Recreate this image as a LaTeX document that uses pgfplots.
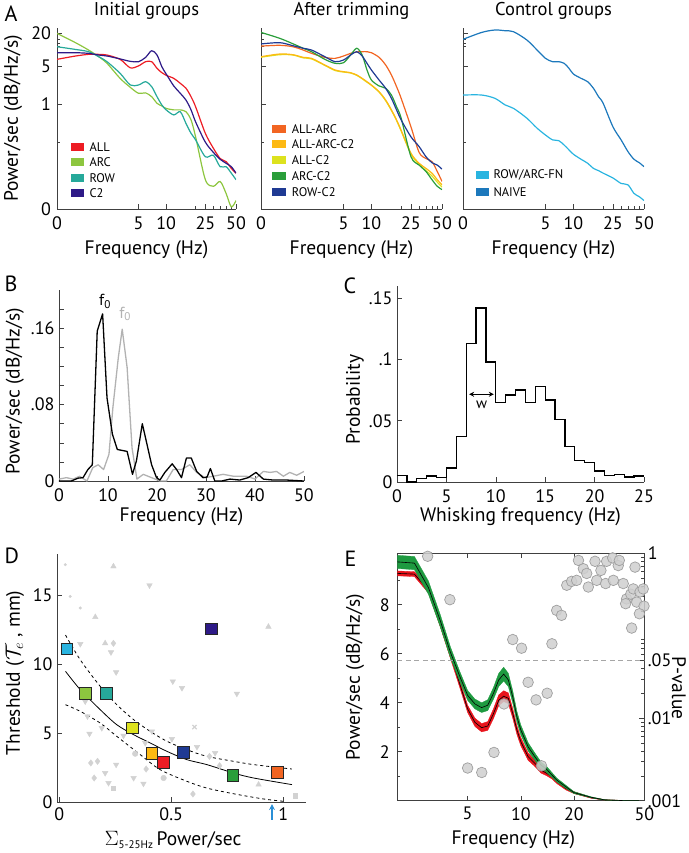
\documentclass[border=0pt]{standalone}
\usepackage{fontspec}
\setmainfont{PT Sans}
\usepackage{pgfplots}
\usepackage{pgfplotstable}
\pgfplotsset{compat=1.18}
\usetikzlibrary{arrows.meta}

\definecolor{cALL}{HTML}{ED1C24}
\definecolor{cARC}{HTML}{8DC63F}
\definecolor{cROW}{HTML}{26A99A}
\definecolor{cC2}{HTML}{2E1A87}
\definecolor{cALLARC}{HTML}{F26522}
\definecolor{cALLARCC2}{HTML}{FDB913}
\definecolor{cALLC2}{HTML}{DDE21E}
\definecolor{cARCC2}{HTML}{2A9E3A}
\definecolor{cROWC2}{HTML}{1F3A93}
\definecolor{cFN}{HTML}{29B4E0}
\definecolor{cNAIVE}{HTML}{1C78BC}
\definecolor{eGreen}{HTML}{1E9A40}
\definecolor{eRed}{HTML}{E8141C}
\definecolor{arrowblue}{HTML}{2A8FD6}

\newcommand\fs[1]{\fontsize{#1}{#1}\selectfont}

\pgfplotsset{
  base/.style={scale only axis,
    axis line style={black!75, line width=0.7pt},
    every tick/.style={black!75, line width=0.6pt},
    tick align=inside, major tick length=5pt, minor tick length=3pt,
    tick label style={font=\fs{18}}, label style={font=\fs{19.5}}},
}

\pgfplotstableread{
f ALL ARC ROW C2
0 6.58 19.7 11.2 8.71
0.5 7.57 13.3 10.0 8.71
1 8.12 9.75 9.09 8.47
1.5 8.12 7.36 7.36 7.89
2 7.89 5.56 5.96 7.57
3 6.58 2.95 3.65 6.70
4 4.60 2.02 2.23 6.05
5 5.00 1.57 2.23 5.96
6 5.96 1.60 2.56 7.15
7 5.96 1.36 2.08 9.48
8 4.50 1.03 1.36 7.89
9 3.75 0.92 0.96 4.83
10 3.35 0.83 0.78 3.55
12 2.95 0.78 0.63 2.14
14 2.39 0.78 0.72 1.57
16 1.94 0.72 0.44 1.18
18 1.36 0.51 0.29 0.78
20 0.89 0.25 0.22 0.47
25 0.29 0.041 0.108 0.20
30 0.155 0.031 0.115 0.13
35 0.10 0.038 0.071 0.097
40 0.088 0.023 0.071 0.082
45 0.066 0.013 0.054 0.071
50 0.054 0.017 0.041 0.054
}\tabAa

\pgfplotstableread{
f AA AAC AC2 ARC2 RC2
0 11.5 7.36 7.2 20.5 12.6
0.5 11.9 8.24 8.0 16.0 13.3
1 11.2 8.00 7.9 12.7 11.7
1.5 9.75 7.16 7.0 10.5 10.5
2 8.47 6.86 6.7 9.09 9.75
3 7.16 5.18 5.1 6.58 7.36
4 6.86 4.20 4.1 5.56 5.96
5 7.57 3.91 3.85 5.70 6.40
6 8.47 3.75 3.7 7.89 7.89
7 9.00 3.40 3.35 10.5 9.09
8 9.09 2.95 2.9 7.89 7.57
9 9.09 2.56 2.5 4.20 5.56
10 8.71 2.23 2.2 2.75 4.20
12 7.16 1.68 1.65 2.14 2.75
14 5.18 1.18 1.15 1.94 1.94
16 3.40 0.78 0.76 1.46 1.27
18 2.08 0.51 0.50 0.89 0.78
20 1.27 0.33 0.32 0.55 0.51
25 0.38 0.125 0.12 0.108 0.25
30 0.13 0.082 0.078 0.076 0.166
35 0.10 0.066 0.060 0.058 0.108
40 0.088 0.054 0.048 0.041 0.084
45 0.058 0.041 0.037 0.031 0.076
50 0.038 0.033 0.030 0.027 0.064
}\tabAb

\pgfplotstableread{
f FN NAIVE
0 1.46 15.3
0.5 1.46 20.5
1 1.27 22.7
1.5 0.96 22.0
2 0.83 21.1
3 0.55 14.9
4 0.36 9.75
5 0.27 6.86
6 0.22 5.96
7 0.213 5.96
8 0.177 5.56
9 0.144 4.50
10 0.12 3.54
12 0.097 2.95
14 0.082 2.56
16 0.066 1.94
18 0.060 1.36
20 0.054 1.03
25 0.044 0.38
30 0.035 0.22
35 0.033 0.134
40 0.023 0.097
45 0.020 0.084
50 0.017 0.071
}\tabAc

% mean curves of panel E
\pgfplotstableread{
f gm rm
2 9.75 9.28
2.5 9.70 9.25
3 8.70 8.60
3.5 7.35 7.25
4 6.05 5.95
4.5 5.10 4.80
5 4.30 3.75
5.5 3.95 3.20
6 3.80 2.98
6.5 3.90 3.05
7 4.38 3.55
7.5 4.93 4.10
8 5.17 4.27
8.5 4.93 4.18
9 4.24 3.57
9.5 3.43 2.89
10 2.89 2.41
11 2.20 1.80
12 1.80 1.53
13 1.46 1.25
14 1.28 1.12
15 1.05 0.98
16 0.84 0.78
18 0.57 0.50
20 0.33 0.33
25 0.14 0.12
30 0.03 0.03
40 0.00 0.00
50 0.00 0.00
}\tabE

% band outlines (upper edge left to right, lower edge right to left)
\pgfplotstableread{
f y
2 10.02
2.5 9.97
3 8.97
3.5 7.60
4 6.27
4.5 5.30
5 4.50
5.5 4.15
6 4.00
6.5 4.12
7 4.62
7.5 5.20
8 5.45
8.5 5.20
9 4.49
9.5 3.65
10 3.09
11 2.37
12 1.95
13 1.59
14 1.40
15 1.15
16 0.92
18 0.63
20 0.37
25 0.16
30 0.04
40 0.01
50 0.01
50 0.00
40 0.00
30 0.02
25 0.12
20 0.29
18 0.51
16 0.76
15 0.95
14 1.16
13 1.33
12 1.65
11 2.03
10 2.69
9.5 3.21
9 3.99
8.5 4.66
8 4.89
7.5 4.66
7 4.14
6.5 3.68
6 3.60
5.5 3.75
5 4.10
4.5 4.90
4 5.83
3.5 7.10
3 8.43
2.5 9.43
2 9.48
}\tabGband

\pgfplotstableread{
f y
2 9.38
2.5 9.35
3 8.72
3.5 7.40
4 6.10
4.5 4.95
5 3.90
5.5 3.37
6 3.15
6.5 3.23
7 3.75
7.5 4.32
8 4.49
8.5 4.40
9 3.77
9.5 3.07
10 2.58
11 1.95
12 1.66
13 1.37
14 1.22
15 1.07
16 0.86
18 0.56
20 0.37
25 0.14
30 0.04
40 0.01
50 0.01
50 0.00
40 0.00
30 0.02
25 0.10
20 0.29
18 0.44
16 0.70
15 0.89
14 1.02
13 1.13
12 1.40
11 1.65
10 2.24
9.5 2.71
9 3.37
8.5 3.96
8 4.05
7.5 3.88
7 3.35
6.5 2.87
6 2.81
5.5 3.03
5 3.60
4.5 4.65
4 5.80
3.5 7.10
3 8.48
2.5 9.15
2 9.18
}\tabRband

\pgfplotstableread{
f P
2.97 0.92
3.97 0.274
9.0 0.090
10.1 0.0707
15.0 0.080
15.96 0.203
17.0 0.177
18.2 0.41
19.4 0.457
20.7 0.47
21.2 0.82
22.6 0.65
23.6 0.57
24.1 0.39
26.3 0.80
26.9 0.47
28.4 0.62
30.2 0.43
30.6 0.80
33.1 0.88
33.4 0.47
35.6 0.71
36.1 0.82
38.0 0.43
39.7 0.28
41.9 0.32
43.3 0.37
44.3 0.68
47.3 0.34
49.3 0.37
39.2 0.245
45.3 0.256
49.8 0.229
46.9 0.185
42.4 0.124
11.0 0.0273
12.2 0.0167
14.1 0.0201
8.03 0.0149
7.05 0.00385
5.0 0.00249
6.01 0.0022
13.1 0.00265
}\tabP

\begin{document}
\begin{tikzpicture}
\useasboundingbox (0,0) rectangle (688pt,-853pt);

% ---------- A1
\begin{axis}[base, anchor=south west, at={(57pt,-209pt)}, width=179pt, height=181pt,
  axis lines*=left, ymode=log, ymin=0.0119, ymax=24.7,
  x coord trafo/.code={\pgfmathparse{log10(#1+1)}},
  x coord inv trafo/.code={\pgfmathparse{10^(#1)-1}},
  xmin=0, xmax=50, xtick={0,5,10,25,50}, xticklabels={0,5,10,25,50},
  minor xtick={20,30,35,40,45},
  ytick={0.0119,1,5,20}, yticklabels={0,1,5,20}, minor ytick={0.2,11.4,12.9,15.3},
  xticklabel style={yshift=-4pt}, yticklabel style={xshift=-2.5pt},
  xlabel={Frequency (Hz)},
  xlabel style={at={(axis description cs:0.5,-0.2265)}, anchor=center},
  title={Initial groups},
  title style={font=\fs{18.5}, at={(axis description cs:0.5,1)}, anchor=base, yshift=7pt},
  ylabel={Power/sec (dB/Hz/s)},
  ylabel style={at={(axis description cs:-0.246,0.5)}, anchor=center}]
\addplot[cALL, line width=1.2pt, smooth] table[x=f,y=ALL]{\tabAa};
\addplot[cARC, line width=1.2pt, smooth] table[x=f,y=ARC]{\tabAa};
\addplot[cROW, line width=1.2pt, smooth] table[x=f,y=ROW]{\tabAa};
\addplot[cC2, line width=1.2pt, smooth] table[x=f,y=C2]{\tabAa};
\end{axis}

% ---------- A2
\begin{axis}[base, anchor=south west, at={(261pt,-209pt)}, width=181pt, height=181pt,
  axis lines*=left, ymode=log, ymin=0.0119, ymax=24.7,
  x coord trafo/.code={\pgfmathparse{log10(#1+1)}},
  x coord inv trafo/.code={\pgfmathparse{10^(#1)-1}},
  xmin=0, xmax=50, xtick={0,5,10,25,50}, xticklabels={0,5,10,25,50},
  minor xtick={20,30,35,40,45},
  ytick={0.0119,1,5,20}, yticklabels={}, minor ytick={0.2,11.4,12.9,15.3},
  xticklabel style={yshift=-4pt},
  xlabel={Frequency (Hz)},
  xlabel style={at={(axis description cs:0.5,-0.2265)}, anchor=center},
  title={After trimming},
  title style={font=\fs{18.5}, at={(axis description cs:0.5,1)}, anchor=base, yshift=7pt}]
\addplot[cALLC2, line width=1.2pt, smooth] table[x=f,y=AC2]{\tabAb};
\addplot[cALLARCC2, line width=1.2pt, smooth] table[x=f,y=AAC]{\tabAb};
\addplot[cALLARC, line width=1.2pt, smooth] table[x=f,y=AA]{\tabAb};
\addplot[cARCC2, line width=1.2pt, smooth] table[x=f,y=ARC2]{\tabAb};
\addplot[cROWC2, line width=1.2pt, smooth] table[x=f,y=RC2]{\tabAb};
\end{axis}

% ---------- A3
\begin{axis}[base, anchor=south west, at={(463pt,-209pt)}, width=181pt, height=181pt,
  axis lines*=left, ymode=log, ymin=0.0119, ymax=24.7,
  x coord trafo/.code={\pgfmathparse{log10(#1+1)}},
  x coord inv trafo/.code={\pgfmathparse{10^(#1)-1}},
  xmin=0, xmax=50, xtick={0,5,10,25,50}, xticklabels={0,5,10,25,50},
  minor xtick={20,30,35,40,45},
  ytick={0.0119,1,5,20}, yticklabels={}, minor ytick={0.2,11.4,12.9,15.3},
  xticklabel style={yshift=-4pt},
  xlabel={Frequency (Hz)},
  xlabel style={at={(axis description cs:0.5,-0.2265)}, anchor=center},
  title={Control groups},
  title style={font=\fs{18.5}, at={(axis description cs:0.5,1)}, anchor=base, yshift=7pt}]
\addplot[cFN, line width=1.2pt, smooth] table[x=f,y=FN]{\tabAc};
\addplot[cNAIVE, line width=1.2pt, smooth] table[x=f,y=NAIVE]{\tabAc};
\end{axis}

% ---------- B
\begin{axis}[base, anchor=south west, axis lines*=left, at={(59pt,-481pt)}, width=245pt, height=191pt,
  xmin=0, xmax=50, ymin=0, ymax=0.2,
  xtick={0,10,20,30,40,50}, xticklabels={0,10,20,30,40,50},
  ytick={0,0.08,0.16}, yticklabels={0,.08,.16},
  minor ytick={0.02,0.04,0.06,0.1,0.12,0.14,0.18}, minor tick length=5pt,
  xticklabel style={yshift=-4pt}, yticklabel style={xshift=-1pt},
  xlabel={Frequency (Hz)}, ylabel={Power/sec (dB/Hz/s)},
  xlabel style={at={(axis description cs:0.5,-0.188)}, anchor=center},
  ylabel style={at={(axis description cs:-0.18,0.47)}, anchor=center}]
\addplot[gray!60, line width=1.3pt, line join=round] coordinates {
(0,0.002)(1.5,0.0035)(2.9,0.002)(4.2,0.005)(5.7,0)(6.9,0.014)(8.0,0.017)(9.1,0.012)
(10.2,0.028)(11.0,0.077)(12.1,0.129)(12.9,0.159)(13.9,0.119)(14.9,0.035)(15.9,0.002)
(17.2,0.007)(18.9,0.0035)(20.6,0)(21.9,0)(23.3,0.012)(25.0,0.012)(26.7,0.017)(28.1,0.009)
(29.8,0.0035)(31.5,0.005)(33.5,0.007)(35.6,0.005)(38.3,0.005)(40.0,0.002)(41.7,0.010)
(43.1,0.009)(44.4,0.010)(45.8,0.005)(47.1,0.009)(48.5,0.006)(50,0.010)};
\addplot[black, line width=1.3pt, line join=round] coordinates {
(0,0)(1.16,0)(2.5,0)(3.9,0.003)(4.9,0.0035)(5.9,0.012)(6.8,0.017)(7.8,0.157)(8.9,0.175)
(9.8,0.087)(10.9,0.049)(11.9,0.033)(12.9,0.032)(13.9,0.031)(15.0,0.007)(15.8,0.021)
(17.0,0.060)(17.8,0.042)(18.9,0.017)(19.9,0.0035)(20.6,0.001)(21.6,0.009)(23.1,0.018)
(24.0,0.012)(25.0,0.0035)(26.0,0.024)(27.0,0.024)(28.1,0.010)(29.4,0.0035)(30.2,0.004)
(30.9,0.013)(31.8,0)(33.2,0)(34.9,0.002)(36.9,0.001)(38.6,0.0035)(40.2,0.009)(41.7,0.002)
(43.7,0.001)(46.5,0.001)(50,0)};
\node[font=\fs{16}] at (axis cs:9.4,0.188) {f\textsubscript{0}};
\node[font=\fs{16}, text=gray!60] at (axis cs:13.5,0.175) {f\textsubscript{0}};
\end{axis}

% ---------- C
\begin{axis}[base, anchor=south west, axis lines*=left, at={(397pt,-482pt)}, width=247pt, height=196pt,
  xmin=0, xmax=25, ymin=0, ymax=0.16,
  xtick={0,5,10,15,20,25}, xticklabels={0,5,10,15,20,25},
  ytick={0,0.05,0.1,0.15}, yticklabels={0,.05,.1,.15},
  xticklabel style={yshift=-4pt}, yticklabel style={xshift=-1pt},
  xlabel={Whisking frequency (Hz)}, ylabel={Probability},
  xlabel style={at={(axis description cs:0.5,-0.179)}, anchor=center},
  ylabel style={at={(axis description cs:-0.17,0.42)}, anchor=center}]
\addplot[const plot, black, line width=1.3pt] coordinates {
(0,0.0054)(1,0)(2,0.0027)(3,0.005)(4,0.0035)(5,0.0114)(6,0.037)(7,0.113)(8,0.142)
(9,0.098)(10,0.065)(11,0.071)(12,0.075)(13,0.065)(14,0.078)(15,0.067)(16,0.051)
(17,0.029)(18,0.0177)(19,0.016)(20,0.009)(21,0.0054)(22,0.0063)(23,0.004)(24,0.005)(25,0.005)};
\draw[black, line width=1pt, {Stealth[length=5pt,width=5pt]}-{Stealth[length=5pt,width=5pt]}]
  (axis cs:7.3,0.0716) -- (axis cs:9.8,0.0716);
\node[font=\fs{15}] at (axis cs:8.57,0.0626) {w};
\end{axis}

% ---------- D
\begin{axis}[base, anchor=south west, axis lines*=left, at={(57pt,-802pt)}, width=248.6pt, height=248.4pt,
  xmin=-0.01, xmax=1.1, ymin=0, ymax=18, clip=false,
  xtick={0,0.5,1}, xticklabels={0,0.5,1},
  ytick={0,5,10,15}, yticklabels={0,5,10,15},
  xticklabel style={yshift=-2pt}, yticklabel style={xshift=-1pt},
  xlabel={$\Sigma_{\mbox{\fs{11}5-25Hz}}$\,Power/sec},
  ylabel={Threshold ($\mathcal{T}_e$ , mm)},
  xlabel style={at={(axis description cs:0.467,-0.153)}, anchor=center},
  ylabel style={at={(axis description cs:-0.169,0.52)}, anchor=center}]
\addplot[only marks, mark=*, mark size=1.3pt, color=gray!35] coordinates {
(0.027,17.2)(0.049,14.9)(0.094,14.06)};
\addplot[only marks, mark=triangle*, mark size=3.2pt, color=gray!35] coordinates {
(0.242,17.07)(0.161,13.4)(0.934,12.7)(0.205,11.5)(0.890,1.26)};
\addplot[only marks, mark=triangle*, mark size=3.2pt, color=gray!35,
  every mark/.append style={rotate=180}] coordinates {
(0.403,15.7)(0.094,11.45)(0.231,10.85)(0.254,9.4)(0.507,8.74)(0.548,8.26)(0.793,7.85)
(0.116,7.29)(0.126,6.21)(0.135,4.95)(0.19,5.36)(0.287,4.81)(0.384,4.28)(0.414,5.12)
(0.503,4.57)(0.615,3.99)(0.696,3.55)(0.205,2.10)(0.220,1.38)(0.254,2.71)(0.332,1.74)(0.376,1.33)};
\addplot[only marks, mark=diamond*, mark size=3.2pt, color=gray!35] coordinates {
(0.242,11.5)(0.671,3.31)(0.716,2.63)(0.141,2.83)(0.171,2.95)(0.156,1.74)(0.388,2.39)(0.597,0.58)};
\addplot[only marks, mark=*, mark size=2.8pt, color=gray!35] coordinates {(0.339,3.5)(0.466,1.74)};
\addplot[only marks, mark=x, mark size=3pt, line width=1.2pt, color=gray!35] coordinates {(0.604,5.43)};
\addplot[only marks, mark=square*, mark size=2.2pt, color=gray!35] coordinates {(0.240,1.01)(1.054,0.46)};
\addplot[black, dashed, line width=0.8pt, smooth] coordinates {
(0.028,12.1)(0.094,10.3)(0.183,8.38)(0.257,7.05)(0.332,5.97)(0.406,5.12)(0.481,4.40)
(0.570,3.79)(0.659,3.31)(0.778,2.95)(0.868,2.71)(1.039,2.39)};
\addplot[black, dashed, line width=0.8pt, smooth] coordinates {
(0.028,7.05)(0.094,6.57)(0.183,5.72)(0.257,4.76)(0.362,3.43)(0.451,2.34)(0.57,1.50)
(0.659,1.01)(0.778,0.60)(0.912,0.22)(1.002,0.05)};
\addplot[black, line width=0.8pt, smooth] coordinates {
(0.028,9.47)(0.094,8.14)(0.183,6.69)(0.257,5.60)(0.332,4.88)(0.406,4.28)(0.481,3.67)
(0.570,3.07)(0.659,2.71)(0.778,2.10)(0.868,1.74)(1.039,1.26)};
\addplot[only marks, mark=square*, mark size=5.8pt, draw=black!85, line width=1pt, fill=cFN] coordinates {(0.034,11.1)};
\addplot[only marks, mark=square*, mark size=5.8pt, draw=black!85, line width=1pt, fill=cARC] coordinates {(0.117,7.85)};
\addplot[only marks, mark=square*, mark size=5.8pt, draw=black!85, line width=1pt, fill=cROW] coordinates {(0.21,7.85)};
\addplot[only marks, mark=square*, mark size=5.8pt, draw=black!85, line width=1pt, fill=cALLC2] coordinates {(0.326,5.36)};
\addplot[only marks, mark=square*, mark size=5.8pt, draw=black!85, line width=1pt, fill=cALLARCC2] coordinates {(0.414,3.5)};
\addplot[only marks, mark=square*, mark size=5.8pt, draw=black!85, line width=1pt, fill=cALL] coordinates {(0.466,2.87)};
\addplot[only marks, mark=square*, mark size=5.8pt, draw=black!85, line width=1pt, fill=cROWC2] coordinates {(0.555,3.6)};
\addplot[only marks, mark=square*, mark size=5.8pt, draw=black!85, line width=1pt, fill=cC2] coordinates {(0.68,12.54)};
\addplot[only marks, mark=square*, mark size=5.8pt, draw=black!85, line width=1pt, fill=cARCC2] coordinates {(0.775,1.93)};
\addplot[only marks, mark=square*, mark size=5.8pt, draw=black!85, line width=1pt, fill=cALLARC] coordinates {(0.975,2.15)};
\draw[arrowblue, line width=1.3pt, -{Stealth[length=6pt,width=6pt]}] (axis cs:0.95,-1.3) -- (axis cs:0.95,-0.15);
\end{axis}

% ---------- E (left)
\begin{axis}[base, anchor=south west, at={(397.3pt,-800.7pt)}, width=247pt, height=247.4pt,
  xmode=log, xmin=2, xmax=50, ymin=0, ymax=10.1,
  xtick={5,10,20,50}, xticklabels={5,10,20,50},
  ytick={2,4,6,8}, yticklabels={2,4,6,8}, minor ytick={1,3,5,7,9},
  ytick pos=left,
  xticklabel style={yshift=-3pt}, yticklabel style={xshift=-4pt},
  xlabel={Frequency (Hz)}, ylabel={Power/sec (dB/Hz/s)},
  xlabel style={at={(axis description cs:0.47,-0.159)}, anchor=center},
  ylabel style={at={(axis description cs:-0.171,0.5)}, anchor=center}]
\addplot[fill=eRed, draw=eRed, line width=0.3pt] table[x=f,y=y]{\tabRband} -- cycle;
\addplot[black, line width=0.6pt] table[x=f,y=rm]{\tabE};
\addplot[fill=eGreen, draw=eGreen, line width=0.3pt] table[x=f,y=y]{\tabGband} -- cycle;
\addplot[black, line width=0.6pt] table[x=f,y=gm]{\tabE};
\end{axis}

% ---------- E (right, P-values)
\begin{axis}[base, anchor=south west, at={(397.3pt,-800.7pt)}, width=247pt, height=247.4pt,
  xmode=log, ymode=log, xmin=2, xmax=50, ymin=0.001, ymax=1,
  axis y line*=right, axis x line=none,
  ytick={0.001,0.01,0.05,1}, yticklabels={.001,.01,.05,1},
  minor ytick={0.002,0.003,0.004,0.005,0.006,0.007,0.008,0.009,0.02,0.03,0.04,0.06,0.07,0.08,0.09,0.2,0.3,0.4,0.5,0.6,0.7,0.8,0.9},
  ylabel={P-value},
  ylabel style={at={(axis description cs:1.14,0.455)}, anchor=center, rotate=180}]
\addplot[gray!70, dash pattern=on 5pt off 3.5pt, line width=1.2pt] coordinates {(2,0.05)(50,0.05)};
\addplot[only marks, mark=*, mark size=5.3pt, draw=gray!75, fill=gray!38, fill opacity=0.85, line width=0.7pt] table[x=f,y=P]{\tabP};
\end{axis}

% ---------- legends of panel A
\begin{scope}[every node/.style={anchor=west, font=\fs{12.5}, inner sep=0pt}]
\fill[cALL] (71pt,-142.7pt) rectangle (84.3pt,-150.7pt); \node at (89.3pt,-146.7pt) {ALL};
\fill[cARC] (71pt,-158.3pt) rectangle (84.3pt,-166.3pt); \node at (89.3pt,-162.3pt) {ARC};
\fill[cROW] (71pt,-173.7pt) rectangle (84.3pt,-181.7pt); \node at (89.3pt,-177.7pt) {ROW};
\fill[cC2] (71pt,-188.7pt) rectangle (84.3pt,-196.7pt); \node at (89.3pt,-192.7pt) {C2};
\fill[cALLARC] (272.3pt,-125pt) rectangle (285.7pt,-133pt); \node at (291.7pt,-129pt) {ALL-ARC};
\fill[cALLARCC2] (272.3pt,-140.3pt) rectangle (285.7pt,-148.3pt); \node at (291.7pt,-144.3pt) {ALL-ARC-C2};
\fill[cALLC2] (272.3pt,-156pt) rectangle (285.7pt,-164pt); \node at (291.7pt,-160pt) {ALL-C2};
\fill[cARCC2] (272.3pt,-172pt) rectangle (285.7pt,-180pt); \node at (291.7pt,-176pt) {ARC-C2};
\fill[cROWC2] (272.3pt,-187.7pt) rectangle (285.7pt,-195.7pt); \node at (291.7pt,-191.7pt) {ROW-C2};
\fill[cFN] (476pt,-171pt) rectangle (489.3pt,-179pt); \node at (493.3pt,-175pt) {ROW/ARC-FN};
\fill[cNAIVE] (476pt,-187.7pt) rectangle (489.3pt,-195.7pt); \node at (493.3pt,-191.7pt) {NAIVE};
\end{scope}

% ---------- panel letters
\node[anchor=base west, font=\fs{22}] at (1pt,-22pt) {A};
\node[anchor=base west, font=\fs{22}] at (1pt,-291pt) {B};
\node[anchor=base west, font=\fs{22}] at (340pt,-293pt) {C};
\node[anchor=base west, font=\fs{22}] at (1pt,-563pt) {D};
\node[anchor=base west, font=\fs{22}] at (341pt,-566pt) {E};
\end{tikzpicture}
\end{document}
